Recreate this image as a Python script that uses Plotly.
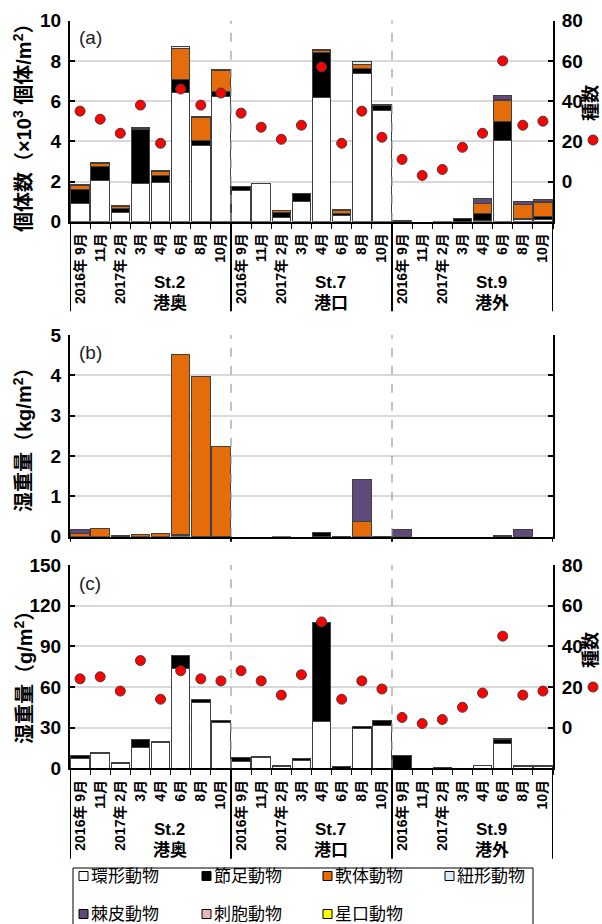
import plotly.graph_objects as go

W, H = 602, 924
FONT = "Liberation Sans, Arial, Noto Sans CJK JP, sans-serif"

stations = ["St.2", "St.7", "St.9"]
areas = ["港奥", "港口", "港外"]
months = ["2016年 9月", "11月", "2017年 2月", "3月", "4月", "6月", "8月", "10月"]
taxa = ["環形動物", "節足動物", "軟体動物", "紐形動物", "棘皮動物", "刺胞動物", "星口動物"]
taxa_colors = ["#FFFFFF", "#000000", "#E46C0A", "#DAEEF3", "#604A7B", "#E6B9B8", "#FFFF00"]

# (a) individuals (x10^3 ind/m2); order St.2 x8, St.7 x8, St.9 x8
dens_annelida = [0.93, 2.06, 0.45, 1.89, 1.94, 6.42, 3.78, 6.25,
                 1.53, 1.92, 0.22, 1.03, 6.19, 0.33, 7.38, 5.54,
                 0.0, 0.0, 0.0, 0.0, 0.06, 4.03, 0.10, 0.12]
dens_arthropoda = [0.65, 0.68, 0.21, 2.72, 0.35, 0.66, 0.27, 0.23,
                   0.21, 0.0, 0.26, 0.35, 2.22, 0.08, 0.25, 0.25,
                   0.05, 0.0, 0.01, 0.15, 0.35, 0.97, 0.06, 0.16]
dens_mollusca = [0.23, 0.16, 0.09, 0.04, 0.22, 1.56, 1.14, 1.03,
                 0.0, 0.0, 0.07, 0.0, 0.10, 0.14, 0.20, 0.03,
                 0.0, 0.0, 0.0, 0.0, 0.50, 1.05, 0.70, 0.70]
dens_nemertea = [0.05, 0.05, 0.04, 0.03, 0.04, 0.08, 0.03, 0.07,
                 0.03, 0.0, 0.02, 0.0, 0.08, 0.05, 0.15, 0.02,
                 0.0, 0.0, 0.0, 0.0, 0.02, 0.05, 0.02, 0.02]
dens_echinodermata = [0.0, 0.0, 0.0, 0.0, 0.0, 0.0, 0.0, 0.0,
                      0.0, 0.0, 0.0, 0.0, 0.0, 0.0, 0.0, 0.0,
                      0.0, 0.0, 0.0, 0.0, 0.20, 0.20, 0.12, 0.08]
dens_cnidaria = [0.0, 0.0, 0.0, 0.0, 0.0, 0.0, 0.0, 0.0,
                 0.0, 0.0, 0.0, 0.0, 0.0, 0.0, 0.0, 0.0,
                 0.0, 0.0, 0.0, 0.0, 0.0, 0.0, 0.0, 0.0]
dens_sipuncula = [0.0, 0.0, 0.0, 0.0, 0.0, 0.0, 0.0, 0.0,
                  0.0, 0.0, 0.0, 0.0, 0.0, 0.0, 0.0, 0.0,
                  0.0, 0.0, 0.0, 0.0, 0.0, 0.0, 0.0, 0.0]
species_a = [35, 31, 24, 38, 19, 46, 38, 44,
             34, 27, 21, 28, 57, 19, 35, 22,
             11, 3, 6, 17, 24, 60, 28, 30]

# (b) wet weight (kg/m2)
kg_annelida = [0.0, 0.0, 0.0, 0.0, 0.0, 0.04, 0.0, 0.0,
               0.0, 0.0, 0.0, 0.0, 0.0, 0.0, 0.0, 0.0,
               0.0, 0.0, 0.0, 0.0, 0.0, 0.0, 0.0, 0.0]
kg_arthropoda = [0.005, 0.005, 0.015, 0.005, 0.005, 0.01, 0.01, 0.01,
                 0.0, 0.0, 0.005, 0.0, 0.10, 0.01, 0.0, 0.01,
                 0.0, 0.0, 0.0, 0.0, 0.0, 0.03, 0.0, 0.0]
kg_mollusca = [0.08, 0.20, 0.01, 0.06, 0.07, 4.46, 3.96, 2.22,
               0.0, 0.0, 0.0, 0.0, 0.0, 0.0, 0.38, 0.0,
               0.0, 0.0, 0.0, 0.0, 0.0, 0.0, 0.0, 0.0]
kg_nemertea = [0.0, 0.0, 0.0, 0.0, 0.0, 0.0, 0.0, 0.0,
               0.0, 0.0, 0.0, 0.0, 0.0, 0.0, 0.0, 0.0,
               0.0, 0.0, 0.0, 0.0, 0.0, 0.0, 0.0, 0.0]
kg_echinodermata = [0.09, 0.0, 0.0, 0.0, 0.0, 0.0, 0.0, 0.0,
                    0.0, 0.0, 0.0, 0.0, 0.0, 0.0, 1.05, 0.0,
                    0.17, 0.0, 0.0, 0.0, 0.0, 0.0, 0.18, 0.0]
kg_cnidaria = [0.0, 0.0, 0.0, 0.0, 0.0, 0.0, 0.0, 0.0,
               0.0, 0.0, 0.0, 0.0, 0.0, 0.0, 0.0, 0.0,
               0.0, 0.0, 0.0, 0.0, 0.0, 0.0, 0.0, 0.0]
kg_sipuncula = [0.0, 0.0, 0.0, 0.0, 0.0, 0.0, 0.0, 0.0,
                0.0, 0.0, 0.0, 0.0, 0.0, 0.0, 0.0, 0.0,
                0.0, 0.0, 0.0, 0.0, 0.0, 0.0, 0.0, 0.0]

# (c) wet weight (g/m2)
g_annelida = [6.9, 10.6, 3.4, 15.2, 18.7, 73.3, 48.7, 33.7,
              4.9, 8.0, 1.2, 5.4, 34.4, 0.2, 29.5, 31.7,
              0.0, 0.0, 0.3, 0.1, 1.8, 18.0, 1.3, 1.3]
g_arthropoda = [2.2, 1.4, 0.8, 6.4, 1.2, 9.8, 1.7, 1.7,
                3.0, 0.6, 1.0, 2.0, 73.3, 0.8, 1.5, 3.7,
                9.8, 0.0, 0.2, 0.1, 0.5, 3.0, 0.2, 0.2]
g_mollusca = [0.0, 0.0, 0.0, 0.0, 0.0, 0.0, 0.0, 0.0,
              0.0, 0.0, 0.0, 0.0, 0.0, 0.0, 0.0, 0.0,
              0.0, 0.0, 0.0, 0.0, 0.0, 0.0, 0.0, 0.0]
g_nemertea = [0.0, 0.0, 0.0, 0.0, 0.0, 0.0, 0.0, 0.0,
              0.0, 0.0, 0.0, 0.0, 0.0, 0.0, 0.0, 0.0,
              0.0, 0.0, 0.0, 0.0, 0.0, 0.0, 0.3, 0.3]
g_echinodermata = [0.0, 0.0, 0.0, 0.0, 0.0, 0.0, 0.0, 0.0,
                   0.0, 0.0, 0.0, 0.0, 0.0, 0.0, 0.0, 0.0,
                   0.0, 0.0, 0.0, 0.0, 0.0, 0.0, 0.0, 0.0]
g_cnidaria = [0.0, 0.0, 0.0, 0.0, 0.0, 0.0, 0.0, 0.0,
              0.0, 0.0, 0.0, 0.0, 0.0, 0.0, 0.0, 0.0,
              0.0, 0.0, 0.0, 0.0, 0.0, 1.0, 0.0, 0.0]
g_sipuncula = [0.0, 0.0, 0.0, 0.0, 0.0, 0.0, 0.0, 0.0,
               0.0, 0.0, 0.0, 0.0, 0.0, 0.0, 0.0, 0.0,
               0.0, 0.0, 0.0, 0.0, 0.0, 0.0, 0.0, 0.0]
species_c = [24, 25, 18, 33, 14, 28, 24, 23,
             28, 23, 16, 26, 52, 14, 23, 19,
             5, 2, 4, 10, 17, 45, 16, 18]

categories = [f"{s}_{m}" for s in stations for m in months]
tick_text = months * 3

panels = [
    ("x", "y", [dens_annelida, dens_arthropoda, dens_mollusca, dens_nemertea,
                dens_echinodermata, dens_cnidaria, dens_sipuncula]),
    ("x2", "y2", [kg_annelida, kg_arthropoda, kg_mollusca, kg_nemertea,
                  kg_echinodermata, kg_cnidaria, kg_sipuncula]),
    ("x3", "y3", [g_annelida, g_arthropoda, g_mollusca, g_nemertea,
                  g_echinodermata, g_cnidaria, g_sipuncula]),
]

fig = go.Figure()
for xa, ya, series in panels:
    for name, col, vals in zip(taxa, taxa_colors, series):
        fig.add_trace(go.Bar(
            x=categories, y=[v if v else None for v in vals], name=name,
            xaxis=xa, yaxis=ya, showlegend=False,
            marker=dict(color=col, line=dict(color="#404040", width=1)),
        ))

dot = dict(color="#FF0000", size=10, line=dict(color="#404040", width=1))
fig.add_trace(go.Scatter(x=categories, y=species_a, mode="markers", marker=dot,
                         xaxis="x", yaxis="y4", showlegend=False, name="種数"))
fig.add_trace(go.Scatter(x=categories, y=species_c, mode="markers", marker=dot,
                         xaxis="x3", yaxis="y5", showlegend=False, name="種数"))


def py(y):
    return 1 - y / H


def px(x):
    return x / W


XD = [px(70), px(553)]
dom_a = [py(221.7), py(20.7)]
dom_b = [py(536.7), py(335)]
dom_c = [py(768.3), py(565)]

tickfont = dict(family=FONT, size=19, color="black", weight="bold")
xtickfont = dict(family=FONT, size=14, color="black", weight="bold")

def xaxis(anchor, labels=True):
    return dict(domain=XD, anchor=anchor, type="category", categoryorder="array",
                categoryarray=categories, range=[-0.5, 23.5],
                tickvals=categories, ticktext=tick_text, showticklabels=labels,
                tickangle=-90, tickfont=xtickfont, ticklabelstandoff=4,
                ticks="outside" if labels else "", tickson="boundaries",
                ticklen=5, tickwidth=1, tickcolor="black",
                showline=True, linecolor="black", linewidth=2,
                showgrid=False, zeroline=False, automargin=False)

def yaxis(dom, rng, dtick, anchor, mirror=False):
    return dict(domain=dom, anchor=anchor, range=rng, dtick=dtick, tick0=0,
                showline=True, linecolor="black", linewidth=2,
                ticks="inside", ticklen=5, tickwidth=1.5, tickcolor="black",
                tickfont=tickfont, ticklabelstandoff=3,
                showgrid=True, gridcolor="#D9D9D9", gridwidth=1.5,
                zeroline=False, automargin=False,
                mirror="ticks" if mirror else False)

def yright(over, anchor):
    return dict(overlaying=over, anchor=anchor, side="right", range=[-20, 80],
                tickvals=[0, 20, 40, 60, 80],
                showline=True, linecolor="black", linewidth=2,
                ticks="inside", ticklen=5, tickwidth=1.5, tickcolor="black",
                tickfont=tickfont, ticklabelstandoff=3,
                showgrid=False, zeroline=False, automargin=False)

fig.update_layout(
    width=W, height=H, margin=dict(l=0, r=0, t=0, b=0),
    template="none", paper_bgcolor="white", plot_bgcolor="white",
    font=dict(family=FONT, color="black"),
    barmode="stack", bargap=0.08, showlegend=False,
    xaxis=xaxis("y"), xaxis2=xaxis("y2", labels=False), xaxis3=xaxis("y3"),
    yaxis=yaxis(dom_a, [0, 10], 2, "x"),
    yaxis2=yaxis(dom_b, [0, 5], 1, "x2", mirror=True),
    yaxis3=yaxis(dom_c, [0, 150], 30, "x3"),
    yaxis4=yright("y", "x"),
    yaxis5=yright("y3", "x3"),
)

shapes = []
annotations = []


def note(x, y, text, font, xref="paper", xanchor="center", angle=0):
    annotations.append(dict(x=x, y=y, xref=xref, yref="paper", text=text,
                            xanchor=xanchor, yanchor="middle", textangle=angle,
                            showarrow=False, font=font))


for xr, yr, has_labels in [("x", "y", True), ("x2", "y2", False), ("x3", "y3", True)]:
    for b in [7.5, 15.5]:
        shapes.append(dict(type="line", xref=xr, yref=f"{yr} domain", x0=b, x1=b, y0=0, y1=1,
                           line=dict(color="#9A9A9A", width=1.2, dash="dash")))
    for b in [-0.5, 7.5, 15.5, 23.5]:
        depth = -0.445 if has_labels else -0.025
        shapes.append(dict(type="line", xref=xr, yref=f"{yr} domain", x0=b, x1=b, y0=0, y1=depth,
                           line=dict(color="black", width=2)))

# station labels
stfont = dict(family=FONT, size=17, weight="bold", color="black")
for ybase in [221.7, 768.3]:
    for i, (s, a) in enumerate(zip(stations, areas)):
        xc = 8 * i + 4.45
        note(xc, py(ybase + 61), s, stfont, xref="x")
        note(xc, py(ybase + 82), a, stfont, xref="x")

# panel tags
for t, yy in [("(a)", 38), ("(b)", 352), ("(c)", 583)]:
    note(px(77), py(yy), t, dict(family=FONT, size=19, color="#222222"), xanchor="left")

# y titles
ytitle_font = dict(family=FONT, size=20, weight="bold", color="black")
for t, yy in [("個体数（×10<sup>3</sup> 個体/m<sup>2</sup>）", 123),
              ("湿重量（kg/m<sup>2</sup>）", 435),
              ("湿重量（g/m<sup>2</sup>）", 673)]:
    note(px(23), py(yy), t, ytitle_font, angle=-90)

# right titles with dot key
rtitle_font = dict(family=FONT, size=18, weight="bold", color="black")
for yy, yd in [(103, 140), (650, 687)]:
    note(px(591), py(yy), "種数", rtitle_font, angle=-90)
    shapes.append(dict(type="circle", xref="paper", yref="paper",
                       x0=px(588), x1=px(598), y0=py(yd + 5), y1=py(yd - 5),
                       fillcolor="#FF0000", line=dict(color="#404040", width=1)))

# legend box
shapes.append(dict(type="rect", xref="paper", yref="paper", x0=px(73), x1=px(533),
                   y0=py(940), y1=py(868), line=dict(color="black", width=1),
                   fillcolor="rgba(0,0,0,0)"))
leg_pos = [(79, 876), (202, 876), (323, 876), (445, 876), (79, 914), (202, 914), (323, 914)]
legfont = dict(family=FONT, size=17, color="black")
for (lx, ly), name, col in zip(leg_pos, taxa, taxa_colors):
    shapes.append(dict(type="rect", xref="paper", yref="paper", x0=px(lx), x1=px(lx + 9),
                       y0=py(ly + 4.5), y1=py(ly - 4.5), fillcolor=col,
                       line=dict(color="black", width=1)))
    note(px(lx + 10), py(ly), name, legfont, xanchor="left")

fig.update_layout(shapes=shapes, annotations=annotations)
fig.write_html("out.html")
